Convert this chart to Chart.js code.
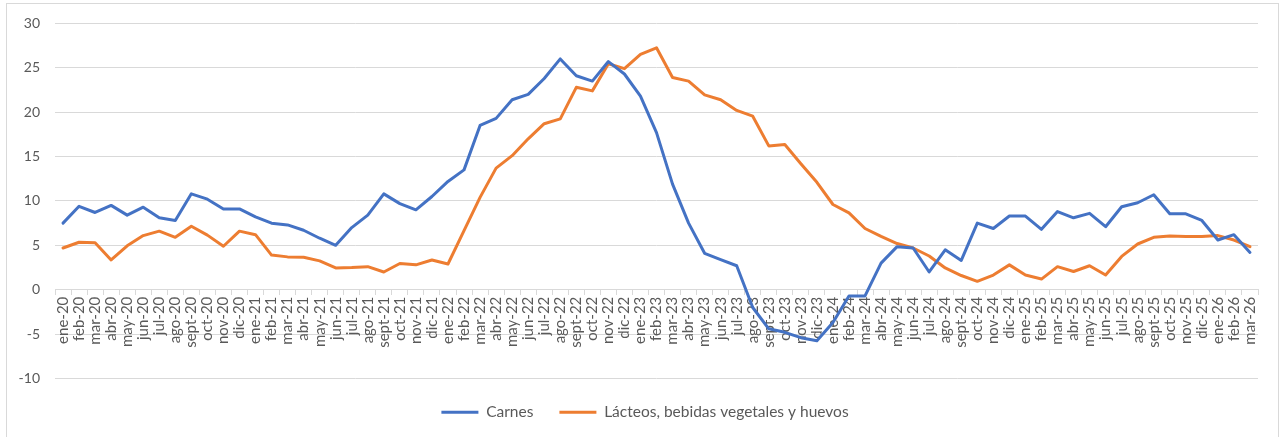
<!DOCTYPE html>
<html lang="es">
<head>
    <meta charset="UTF-8">
    <script src="https://cdn.jsdelivr.net/npm/chart.js@4.4.0/dist/chart.umd.min.js"></script>
    <title>Carnes y lácteos</title>
    <style>
        html, body {
            margin: 0;
            padding: 0;
            background: white;
            overflow: hidden;
        }
        .Chart-Container {
            position: absolute;
            left: 0;
            top: 0;
            width: 1281px;
            height: 437px;
        }
        .Chart-Border {
            position: absolute;
            left: 6px;
            top: 3px;
            width: 1271px;
            height: 450px;
            border: 1px solid #d9d9d9;
            pointer-events: none;
        }
    </style>
</head>
<body>
    <div class="Chart-Container">
        <canvas id="lineChart"></canvas>
    </div>
    <div class="Chart-Border"></div>
<script>
    var labels = [
        'ene-20', 'feb-20', 'mar-20', 'abr-20', 'may-20', 'jun-20', 'jul-20', 'ago-20', 'sept-20', 'oct-20', 'nov-20', 'dic-20',
        'ene-21', 'feb-21', 'mar-21', 'abr-21', 'may-21', 'jun-21', 'jul-21', 'ago-21', 'sept-21', 'oct-21', 'nov-21', 'dic-21',
        'ene-22', 'feb-22', 'mar-22', 'abr-22', 'may-22', 'jun-22', 'jul-22', 'ago-22', 'sept-22', 'oct-22', 'nov-22', 'dic-22',
        'ene-23', 'feb-23', 'mar-23', 'abr-23', 'may-23', 'jun-23', 'jul-23', 'ago-23', 'sept-23', 'oct-23', 'nov-23', 'dic-23',
        'ene-24', 'feb-24', 'mar-24', 'abr-24', 'may-24', 'jun-24', 'jul-24', 'ago-24', 'sept-24', 'oct-24', 'nov-24', 'dic-24',
        'ene-25', 'feb-25', 'mar-25', 'abr-25', 'may-25', 'jun-25', 'jul-25', 'ago-25', 'sept-25', 'oct-25', 'nov-25', 'dic-25',
        'ene-26', 'feb-26', 'mar-26'
    ];

    var carnes = [
        7.5, 9.4, 8.7, 9.5, 8.4, 9.3, 8.1, 7.8, 10.8, 10.2, 9.1, 9.1,
        8.2, 7.5, 7.3, 6.7, 5.8, 5.0, 7.0, 8.4, 10.8, 9.7, 9.0, 10.5,
        12.2, 13.5, 18.5, 19.3, 21.4, 22.0, 23.8, 26.0, 24.1, 23.5, 25.7, 24.3,
        21.8, 17.7, 11.9, 7.5, 4.1, 3.4, 2.7, -2.0, -4.4, -4.8, -5.4, -5.75,
        -3.7, -0.7, -0.7, 3.0, 4.85, 4.7, 2.0, 4.5, 3.3, 7.5, 6.9, 8.3,
        8.3, 6.8, 8.8, 8.1, 8.6, 7.1, 9.35, 9.8, 10.7, 8.55, 8.55, 7.8,
        5.6, 6.2, 4.2
    ];

    var lacteos = [
        4.7, 5.35, 5.3, 3.35, 4.95, 6.1, 6.6, 5.9, 7.15, 6.15, 4.9, 6.6,
        6.2, 3.9, 3.7, 3.65, 3.25, 2.45, 2.5, 2.6, 2.0, 2.95, 2.8, 3.35,
        2.9, 6.65, 10.4, 13.7, 15.1, 17.0, 18.7, 19.25, 22.8, 22.4, 25.45, 24.9,
        26.5, 27.25, 23.9, 23.5, 21.95, 21.4, 20.2, 19.55, 16.2, 16.35, 14.2, 12.1,
        9.6, 8.65, 6.9, 6.0, 5.2, 4.7, 3.8, 2.45, 1.6, 0.95, 1.65, 2.8,
        1.65, 1.2, 2.6, 2.05, 2.7, 1.65, 3.75, 5.15, 5.9, 6.05, 6.0, 6.0,
        6.1, 5.6, 4.85
    ];

    var blue = '#4472c4';
    var orange = '#ed7d31';
    var textGrey = '#595959';
    var gridGrey = '#d9d9d9';

    Chart.defaults.font.family = 'Lato';
    Chart.defaults.color = textGrey;

    // legend sits centred on the whole chart box, not only left of the right padding
    var legendShift = {
        id: 'legendShift',
        afterLayout: function(chart) {
            chart.legend.left += 32;
        }
    };

    var ctx = document.getElementById('lineChart').getContext('2d');
    var lineChart = new Chart(ctx, {
        type: 'line',
        data: {
            labels: labels,
            datasets: [
                {
                    label: 'Carnes',
                    data: carnes,
                    borderColor: blue,
                    backgroundColor: blue,
                    borderWidth: 3,
                    borderCapStyle: 'round',
                    borderJoinStyle: 'round',
                    pointRadius: 0,
                    pointStyle: 'line',
                    tension: 0
                },
                {
                    label: 'Lácteos, bebidas vegetales y huevos',
                    data: lacteos,
                    borderColor: orange,
                    backgroundColor: orange,
                    borderWidth: 3,
                    borderCapStyle: 'round',
                    borderJoinStyle: 'round',
                    pointRadius: 0,
                    pointStyle: 'line',
                    tension: 0
                }
            ]
        },
        plugins: [legendShift],
        options: {
            animation: false,
            responsive: true,
            maintainAspectRatio: false,
            layout: {
                padding: { left: 0, right: 23, top: 23, bottom: 7 }
            },
            scales: {
                x: {
                    position: { y: 0 },
                    offset: true,
                    grid: {
                        offset: true,
                        drawOnChartArea: false,
                        drawTicks: true,
                        tickLength: 5,
                        color: gridGrey
                    },
                    border: { color: gridGrey, width: 1 },
                    ticks: {
                        autoSkip: false,
                        maxRotation: 90,
                        minRotation: 90,
                        padding: 2,
                        color: textGrey,
                        font: { size: 15 }
                    }
                },
                y: {
                    min: -10,
                    max: 30,
                    grid: {
                        color: gridGrey,
                        drawTicks: false
                    },
                    border: { display: false },
                    ticks: {
                        stepSize: 5,
                        padding: 15,
                        color: textGrey,
                        font: { size: 14 }
                    },
                    afterFit: function(scale) {
                        scale.width = 55;
                    }
                }
            },
            plugins: {
                legend: {
                    position: 'bottom',
                    labels: {
                        usePointStyle: true,
                        pointStyleWidth: 37,
                        padding: 26,
                        color: textGrey,
                        font: { size: 15.5 }
                    }
                },
                tooltip: { enabled: false }
            }
        }
    });
</script>
</body>
</html>
